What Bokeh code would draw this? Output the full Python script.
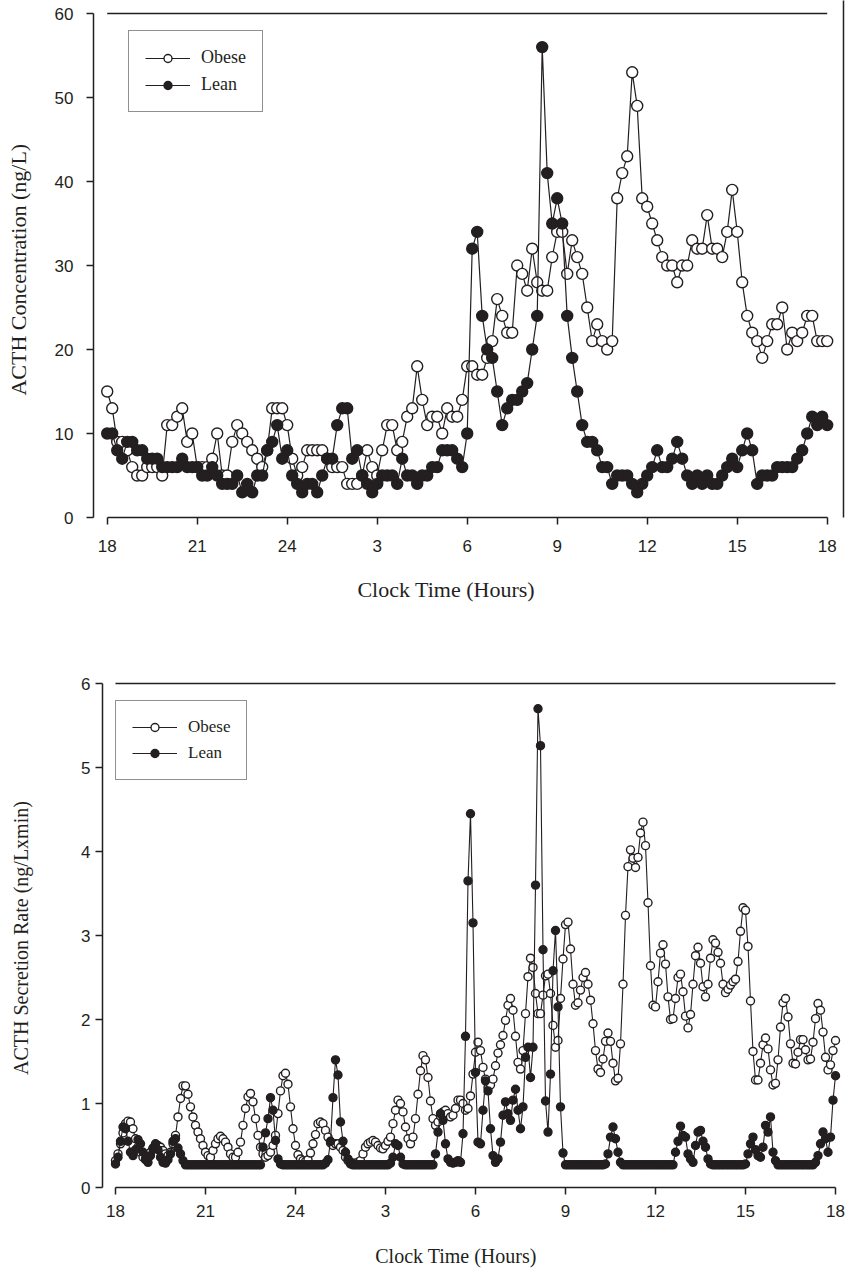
from bokeh.plotting import figure
from bokeh.models import FixedTicker, Range1d, Legend, LegendItem, LinearAxis
from bokeh.embed import file_html
from bokeh.resources import INLINE

# ---------------- data ----------------
hour_ticks = [0, 3, 6, 9, 12, 15, 18, 21, 24]
hour_tick_labels = ["18", "21", "24", "3", "6", "9", "12", "15", "18"]

# ACTH concentration, 10-min samples from 18:00 to 18:00 (145 values)
conc_obese = [
    15, 13, 9, 9, 8, 6, 5, 5, 6, 6,
    6, 5, 11, 11, 12, 13, 9, 10, 6, 6,
    6, 7, 10, 5, 5, 9, 11, 10, 9, 8,
    7, 6, 8, 13, 13, 13, 11, 7, 5, 6,
    8, 8, 8, 8, 7, 6, 6, 6, 4, 4,
    4, 5, 8, 6, 5, 8, 11, 11, 8, 9,
    12, 13, 18, 14, 11, 12, 12, 10, 13, 12,
    12, 14, 18, 18, 17, 17, 19, 21, 26, 24,
    22, 22, 30, 29, 27, 32, 28, 27, 27, 31,
    34, 34, 29, 33, 31, 29, 25, 21, 23, 21,
    20, 21, 38, 41, 43, 53, 49, 38, 37, 35,
    33, 31, 30, 30, 28, 30, 30, 33, 32, 32,
    36, 32, 32, 31, 34, 39, 34, 28, 24, 22,
    21, 19, 21, 23, 23, 25, 20, 22, 21, 22,
    24, 24, 21, 21, 21,
]
conc_lean = [
    10, 10, 8, 7, 9, 9, 8, 8, 7, 7,
    7, 6, 6, 6, 6, 7, 6, 6, 6, 5,
    5, 6, 5, 4, 4, 4, 5, 3, 4, 3,
    5, 5, 8, 9, 11, 7, 8, 5, 4, 3,
    4, 4, 3, 5, 7, 7, 11, 13, 13, 7,
    8, 5, 4, 3, 4, 5, 5, 5, 4, 7,
    5, 5, 4, 5, 5, 6, 6, 8, 8, 8,
    7, 6, 10, 32, 34, 24, 20, 19, 15, 11,
    13, 14, 14, 15, 16, 20, 24, 56, 41, 35,
    38, 35, 24, 19, 15, 11, 9, 9, 8, 6,
    6, 4, 5, 5, 5, 4, 3, 4, 5, 6,
    8, 6, 6, 7, 9, 7, 5, 4, 5, 4,
    5, 4, 4, 5, 6, 7, 6, 8, 10, 8,
    4, 5, 5, 5, 6, 6, 6, 6, 7, 8,
    10, 12, 11, 12, 11,
]

# ACTH secretion rate, 5-min resolution from 18:00 to 18:00 (289 values)
rate_obese = [
    0.32, 0.40, 0.52, 0.65, 0.76, 0.79, 0.78, 0.70, 0.58, 0.48,
    0.42, 0.36, 0.33, 0.36, 0.42, 0.46, 0.49, 0.50, 0.48, 0.44,
    0.40, 0.38, 0.42, 0.52, 0.62, 0.84, 1.06, 1.21, 1.21, 1.11,
    0.96, 0.84, 0.74, 0.66, 0.58, 0.50, 0.42, 0.38, 0.36, 0.44,
    0.52, 0.58, 0.61, 0.58, 0.54, 0.48, 0.40, 0.36, 0.36, 0.42,
    0.54, 0.74, 0.94, 1.08, 1.12, 1.02, 0.82, 0.62, 0.48, 0.40,
    0.36, 0.38, 0.42, 0.50, 0.62, 0.88, 1.15, 1.33, 1.36, 1.23,
    0.96, 0.70, 0.50, 0.39, 0.34, 0.32, 0.31, 0.33, 0.41, 0.52,
    0.63, 0.76, 0.78, 0.76, 0.68, 0.60, 0.53, 0.50, 0.52, 0.52,
    0.48, 0.44, 0.36, 0.32, 0.30, 0.29, 0.29, 0.30, 0.32, 0.40,
    0.48, 0.52, 0.54, 0.56, 0.54, 0.50, 0.47, 0.46, 0.50, 0.55,
    0.60, 0.76, 0.92, 1.04, 1.00, 0.90, 0.72, 0.58, 0.52, 0.60,
    0.82, 1.11, 1.39, 1.57, 1.52, 1.31, 1.03, 0.82, 0.74, 0.78,
    0.85, 0.90, 0.92, 0.88, 0.84, 0.86, 0.94, 1.04, 1.04, 1.00,
    0.92, 0.94, 1.09, 1.35, 1.61, 1.73, 1.63, 1.43, 1.29, 1.19,
    1.22, 1.29, 1.45, 1.60, 1.70, 1.81, 1.99, 2.17, 2.25, 2.11,
    1.80, 1.49, 1.41, 1.63, 2.07, 2.51, 2.73, 2.62, 2.31, 2.07,
    2.07, 2.29, 2.52, 2.54, 2.31, 1.93, 1.67, 1.75, 2.25, 2.72,
    3.13, 3.16, 2.84, 2.42, 2.17, 2.20, 2.35, 2.50, 2.56, 2.42,
    2.23, 1.95, 1.63, 1.41, 1.37, 1.53, 1.74, 1.84, 1.74, 1.48,
    1.27, 1.30, 1.71, 2.42, 3.24, 3.82, 4.02, 3.92, 3.81, 3.93,
    4.22, 4.35, 4.07, 3.39, 2.64, 2.17, 2.15, 2.45, 2.79, 2.89,
    2.66, 2.27, 2.00, 2.01, 2.25, 2.50, 2.54, 2.33, 2.04, 1.90,
    2.06, 2.42, 2.76, 2.86, 2.67, 2.39, 2.27, 2.42, 2.73, 2.95,
    2.91, 2.80, 2.67, 2.42, 2.32, 2.36, 2.41, 2.45, 2.48, 2.69,
    3.05, 3.33, 3.30, 2.87, 2.22, 1.62, 1.28, 1.28, 1.48, 1.70,
    1.78, 1.65, 1.40, 1.22, 1.24, 1.52, 1.91, 2.20, 2.25, 2.03,
    1.71, 1.48, 1.47, 1.61, 1.76, 1.76, 1.64, 1.52, 1.53, 1.73,
    2.01, 2.19, 2.11, 1.85, 1.55, 1.40, 1.46, 1.63, 1.75,
]
rate_lean = [
    0.28, 0.36, 0.55, 0.72, 0.70, 0.55, 0.42, 0.38, 0.45, 0.57,
    0.52, 0.42, 0.34, 0.30, 0.38, 0.47, 0.52, 0.45, 0.36, 0.30,
    0.29, 0.33, 0.40, 0.55, 0.58, 0.47, 0.40, 0.32, 0.27, 0.27,
    0.27, 0.27, 0.27, 0.27, 0.27, 0.27, 0.27, 0.27, 0.27, 0.27,
    0.27, 0.27, 0.27, 0.27, 0.27, 0.27, 0.27, 0.27, 0.27, 0.27,
    0.27, 0.27, 0.27, 0.27, 0.27, 0.27, 0.27, 0.27, 0.27, 0.48,
    0.65, 0.82, 1.07, 0.92, 0.56, 0.34, 0.28, 0.27, 0.27, 0.27,
    0.27, 0.27, 0.27, 0.27, 0.27, 0.27, 0.27, 0.27, 0.27, 0.27,
    0.27, 0.27, 0.27, 0.27, 0.29, 0.33, 0.55, 1.07, 1.52, 1.34,
    0.78, 0.55, 0.42, 0.34, 0.28, 0.27, 0.27, 0.27, 0.27, 0.27,
    0.27, 0.27, 0.27, 0.27, 0.27, 0.27, 0.27, 0.27, 0.27, 0.27,
    0.29, 0.36, 0.52, 0.50, 0.36, 0.28, 0.27, 0.27, 0.27, 0.27,
    0.27, 0.27, 0.27, 0.27, 0.27, 0.27, 0.27, 0.27, 0.40, 0.66,
    0.88, 0.80, 0.52, 0.34, 0.30, 0.29, 0.30, 0.32, 0.30, 0.64,
    1.80, 3.65, 4.45, 3.15, 1.37, 0.54, 0.52, 0.92, 1.27, 1.15,
    0.70, 0.38, 0.30, 0.34, 0.54, 0.86, 1.02, 0.88, 0.80, 1.04,
    1.17, 0.92, 0.70, 0.96, 1.55, 1.67, 1.31, 1.67, 3.60, 5.70,
    5.26, 2.83, 1.03, 0.66, 1.35, 2.58, 3.06, 2.15, 0.96, 0.41,
    0.27, 0.27, 0.27, 0.27, 0.27, 0.27, 0.27, 0.27, 0.27, 0.27,
    0.27, 0.27, 0.27, 0.27, 0.27, 0.27, 0.28, 0.40, 0.60, 0.72,
    0.58, 0.42, 0.30, 0.27, 0.27, 0.27, 0.27, 0.27, 0.27, 0.27,
    0.27, 0.27, 0.27, 0.27, 0.27, 0.27, 0.27, 0.27, 0.27, 0.27,
    0.27, 0.27, 0.27, 0.27, 0.42, 0.55, 0.73, 0.62, 0.60, 0.40,
    0.34, 0.30, 0.50, 0.66, 0.68, 0.55, 0.48, 0.34, 0.28, 0.27,
    0.27, 0.27, 0.27, 0.27, 0.27, 0.27, 0.27, 0.27, 0.27, 0.27,
    0.27, 0.27, 0.28, 0.40, 0.52, 0.60, 0.45, 0.38, 0.36, 0.48,
    0.74, 0.66, 0.84, 0.42, 0.32, 0.27, 0.27, 0.27, 0.27, 0.27,
    0.27, 0.27, 0.27, 0.27, 0.27, 0.27, 0.27, 0.27, 0.27, 0.27,
    0.30, 0.38, 0.52, 0.66, 0.58, 0.42, 0.60, 1.04, 1.33,
]

conc_hours = [i / 6 for i in range(len(conc_obese))]
rate_hours = [j / 12 for j in range(len(rate_obese))]

INK = "#231f20"
SERIF = "Liberation Serif"
SANS = "Liberation Sans"


def style_axes(p, yticks, ybounds, ystandoff, xstandoff):
    p.outline_line_color = None
    p.xgrid.visible = False
    p.ygrid.visible = False
    p.background_fill_color = "white"
    p.border_fill_color = "white"
    for ax in (p.xaxis[0], p.yaxis[0]):
        ax.axis_line_color = INK
        ax.axis_line_width = 1.5
        ax.major_tick_line_color = INK
        ax.major_tick_line_width = 1.5
        ax.major_tick_out = 7
        ax.major_tick_in = 0
        ax.minor_tick_line_color = None
        ax.major_label_text_font = SANS
        ax.major_label_text_font_size = "17px"
        ax.major_label_text_color = INK
    xa = p.xaxis[0]
    xa.ticker = FixedTicker(ticks=hour_ticks)
    xa.major_label_overrides = {t: lab for t, lab in zip(hour_ticks, hour_tick_labels)}
    xa.bounds = (0, 24)
    xa.major_label_standoff = xstandoff
    ya = p.yaxis[0]
    ya.ticker = FixedTicker(ticks=yticks)
    ya.bounds = ybounds
    ya.major_label_standoff = ystandoff


def add_title_axis(p, side, text, pos, font_size, standoff):
    # a bare axis (no line, no tick marks) whose single tick label is the axis title,
    # so that the title sits at the same place as in the reference
    ax = LinearAxis(ticker=FixedTicker(ticks=[pos]),
                    major_label_overrides={pos: text},
                    axis_line_color=None, major_tick_line_color=None,
                    minor_tick_line_color=None, major_tick_out=0, major_tick_in=0,
                    major_label_standoff=standoff,
                    major_label_text_font=SERIF, major_label_text_font_size=font_size,
                    major_label_text_color=INK)
    if side == "left":
        ax.major_label_orientation = "parallel"
    p.add_layout(ax, side)


def add_series(p, xs, obese, lean, size, lw):
    lo = p.line(xs, obese, line_color=INK, line_width=lw)
    so = p.scatter(xs, obese, marker="circle", size=size, fill_color="white",
                   line_color=INK, line_width=1.4)
    ll = p.line(xs, lean, line_color=INK, line_width=lw)
    sl = p.scatter(xs, lean, marker="circle", size=size, fill_color=INK,
                   line_color=INK, line_width=1.4)
    return lo, so, ll, sl


def add_legend(p, rends, loc, font_size):
    lo, so, ll, sl = rends
    leg = Legend(items=[LegendItem(label="Obese", renderers=[lo, so]),
                        LegendItem(label="Lean", renderers=[ll, sl])],
                 location=loc)
    leg.border_line_color = INK
    leg.border_line_width = 1
    leg.background_fill_color = "white"
    leg.background_fill_alpha = 1.0
    leg.padding = 16
    leg.spacing = 6
    leg.margin = 0
    leg.glyph_width = 45
    leg.glyph_height = 20
    leg.label_height = 20
    leg.label_standoff = 11
    leg.label_text_font = SERIF
    leg.label_text_font_size = font_size
    leg.label_text_color = INK
    p.add_layout(leg)


# ---------------- top panel: concentration ----------------
p1 = figure(width=845, height=615,
            x_range=Range1d(-0.457, 24.61), y_range=Range1d(0, 61.55),
            output_backend="svg", toolbar_location=None,
            min_border_left=93, min_border_right=0,
            min_border_top=0, min_border_bottom=98)
style_axes(p1, [0, 10, 20, 30, 40, 50, 60], (0, 60), 13, 15)
p1.segment(x0=[0], y0=[60], x1=[24], y1=[60], line_color=INK, line_width=1.5)
p1.segment(x0=[24.543], y0=[-2], x1=[24.543], y1=[62], line_color=INK, line_width=1.5)
r1 = add_series(p1, conc_hours, conc_obese, conc_lean, 11, 1.2)
add_legend(p1, r1, (35, 405), "18px")
add_title_axis(p1, "below", "Clock Time (Hours)", 11.3, "22px", 22)
add_title_axis(p1, "left", "ACTH Concentration (ng/L)", 29.5, "22px", 20)

# ---------------- bottom panel: secretion rate ----------------
p2 = figure(width=845, height=659,
            x_range=Range1d(-0.433, 24.333), y_range=Range1d(0, 6.06),
            output_backend="svg", toolbar_location=None,
            min_border_left=102, min_border_right=0,
            min_border_top=63, min_border_bottom=87)
style_axes(p2, [0, 1, 2, 3, 4, 5, 6], (0, 6), 5, 10)
p2.segment(x0=[0], y0=[6], x1=[24], y1=[6], line_color=INK, line_width=1.5)
r2 = add_series(p2, rate_hours, rate_obese, rate_lean, 8, 1.1)
add_legend(p2, r2, (13, 407), "17px")
add_title_axis(p2, "below", "Clock Time (Hours)", 11.35, "20px", 25)
add_title_axis(p2, "left", "ACTH Secretion Rate (ng/Lxmin)", 2.97, "20px", 46)

open("out.html", "w").write(file_html([p1, p2], INLINE))
